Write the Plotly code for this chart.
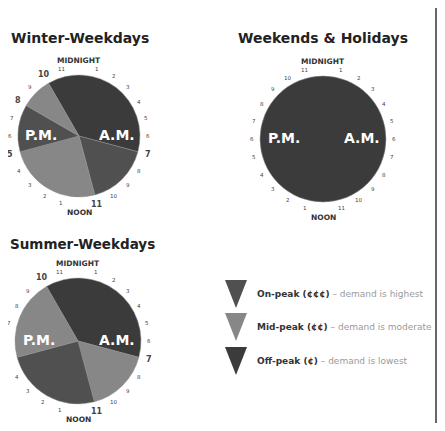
import math
import plotly.graph_objects as go

W, H = 445, 431          # reference canvas (pixels)
OFF = 8                  # page body margin
FW, FH = W - 2 * OFF, H - 2 * OFF

# ---- data ----
period_colors = {"On-peak": "#505050", "Mid-peak": "#878787", "Off-peak": "#3b3b3b"}
legend_periods = ["On-peak", "Mid-peak", "Off-peak"]
legend_price = ["(¢¢¢)", "(¢¢)", "(¢)"]
legend_desc = ["demand is highest", "demand is moderate", "demand is lowest"]

winter_start = [22, 7, 11, 17, 20]
winter_period = ["Off-peak", "On-peak", "Mid-peak", "On-peak", "Mid-peak"]
winter_hours = [9, 4, 6, 3, 2]

summer_start = [22, 7, 11, 17]
summer_period = ["Off-peak", "Mid-peak", "On-peak", "Mid-peak"]
summer_hours = [9, 4, 6, 5]

weekend_start = [0]
weekend_period = ["Off-peak"]
weekend_hours = [24]

# panel layout (pixel centre, radius)
panels = [
    dict(title="Winter-Weekdays", start=winter_start, period=winter_period,
         hours=winter_hours, cx=79, cy=136, r=61, tx=80, ty=38, ts=14),
    dict(title="Weekends & Holidays", start=weekend_start, period=weekend_period,
         hours=weekend_hours, cx=323, cy=139, r=63, tx=323, ty=38, ts=14),
    dict(title="Summer-Weekdays", start=summer_start, period=summer_period,
         hours=summer_hours, cx=78, cy=341, r=63, tx=82, ty=244, ts=13.5),
]

FONT = "DejaVu Sans"
fig = go.Figure()
ann = []
shapes = []

for p in panels:
    cx, cy, r = p["cx"], p["cy"], p["r"]
    fig.add_trace(go.Pie(
        values=p["hours"],
        labels=[f"{per} from {s}:00" for per, s in zip(p["period"], p["start"])],
        marker=dict(colors=[period_colors[x] for x in p["period"]],
                    line=dict(color="#8f8f8f", width=0.5)),
        sort=False, direction="clockwise", rotation=p["start"][0] * 15,
        textinfo="none", showlegend=False, hoverinfo="label+value",
        domain=dict(x=[(cx - r - OFF) / FW, (cx + r - OFF) / FW],
                    y=[1 - (cy + r - OFF) / FH, 1 - (cy - r - OFF) / FH]),
    ))
    ann.append(dict(x=p["tx"], y=p["ty"], text=f"<b>{p['title']}</b>", showarrow=False,
                    font=dict(family=FONT, size=p["ts"], color="#222")))
    ann.append(dict(x=cx, y=cy - r - 15, text="<b>MIDNIGHT</b>", showarrow=False,
                    font=dict(family=FONT, size=7.5, color="#333")))
    ann.append(dict(x=cx, y=cy + r + 15, text="<b>NOON</b>", showarrow=False,
                    font=dict(family=FONT, size=7.5, color="#333")))
    ann.append(dict(x=cx - r * 0.62, y=cy - 1, text="<b>P.M.</b>", showarrow=False,
                    font=dict(family=FONT, size=14, color="white")))
    ann.append(dict(x=cx + r * 0.62, y=cy - 1, text="<b>A.M.</b>", showarrow=False,
                    font=dict(family=FONT, size=14, color="white")))
    for h in range(24):
        if h in (0, 12):
            continue
        bold = h in p["start"]
        R = r + (10 if bold else 8)
        a = math.radians(h * 15)
        lab = str(h % 12)
        ann.append(dict(x=cx + R * math.sin(a), y=cy - R * math.cos(a),
                        text=f"<b>{lab}</b>" if bold else lab, showarrow=False,
                        font=dict(family=FONT, size=8 if bold else 5.5,
                                  color="#444")))

# legend
legend_rows = [294, 327, 361]
for i, per in enumerate(legend_periods):
    yc = legend_rows[i]
    x0, w, h = 236, 22, 28
    shapes.append(dict(type="path", xref="x", yref="y",
                       path=f"M {x0 - w/2} {yc - h/2} L {x0 + w/2} {yc - h/2} L {x0} {yc + h/2} Z",
                       fillcolor=period_colors[per], line=dict(width=0)))
    ann.append(dict(x=255, y=yc, xanchor="left", showarrow=False,
                    text=f"<b>{per} {legend_price[i]}</b>"
                         f"<span style='color:#9a9a9a'> – {legend_desc[i]}</span>",
                    font=dict(family=FONT, size=9, color="#333")))

shapes.append(dict(type="line", xref="x", yref="y", x0=436, x1=436, y0=OFF, y1=H - OFF,
                   line=dict(color="#333", width=1.5)))

fig.update_layout(
    width=FW, height=FH, margin=dict(l=0, r=0, t=0, b=0),
    paper_bgcolor="white", plot_bgcolor="white",
    xaxis=dict(range=[OFF, W - OFF], visible=False, domain=[0, 1], fixedrange=True),
    yaxis=dict(range=[H - OFF, OFF], visible=False, domain=[0, 1], fixedrange=True),
    annotations=[dict(a, xref="x", yref="y") for a in ann],
    shapes=shapes,
)
fig.write_html("out.html")
